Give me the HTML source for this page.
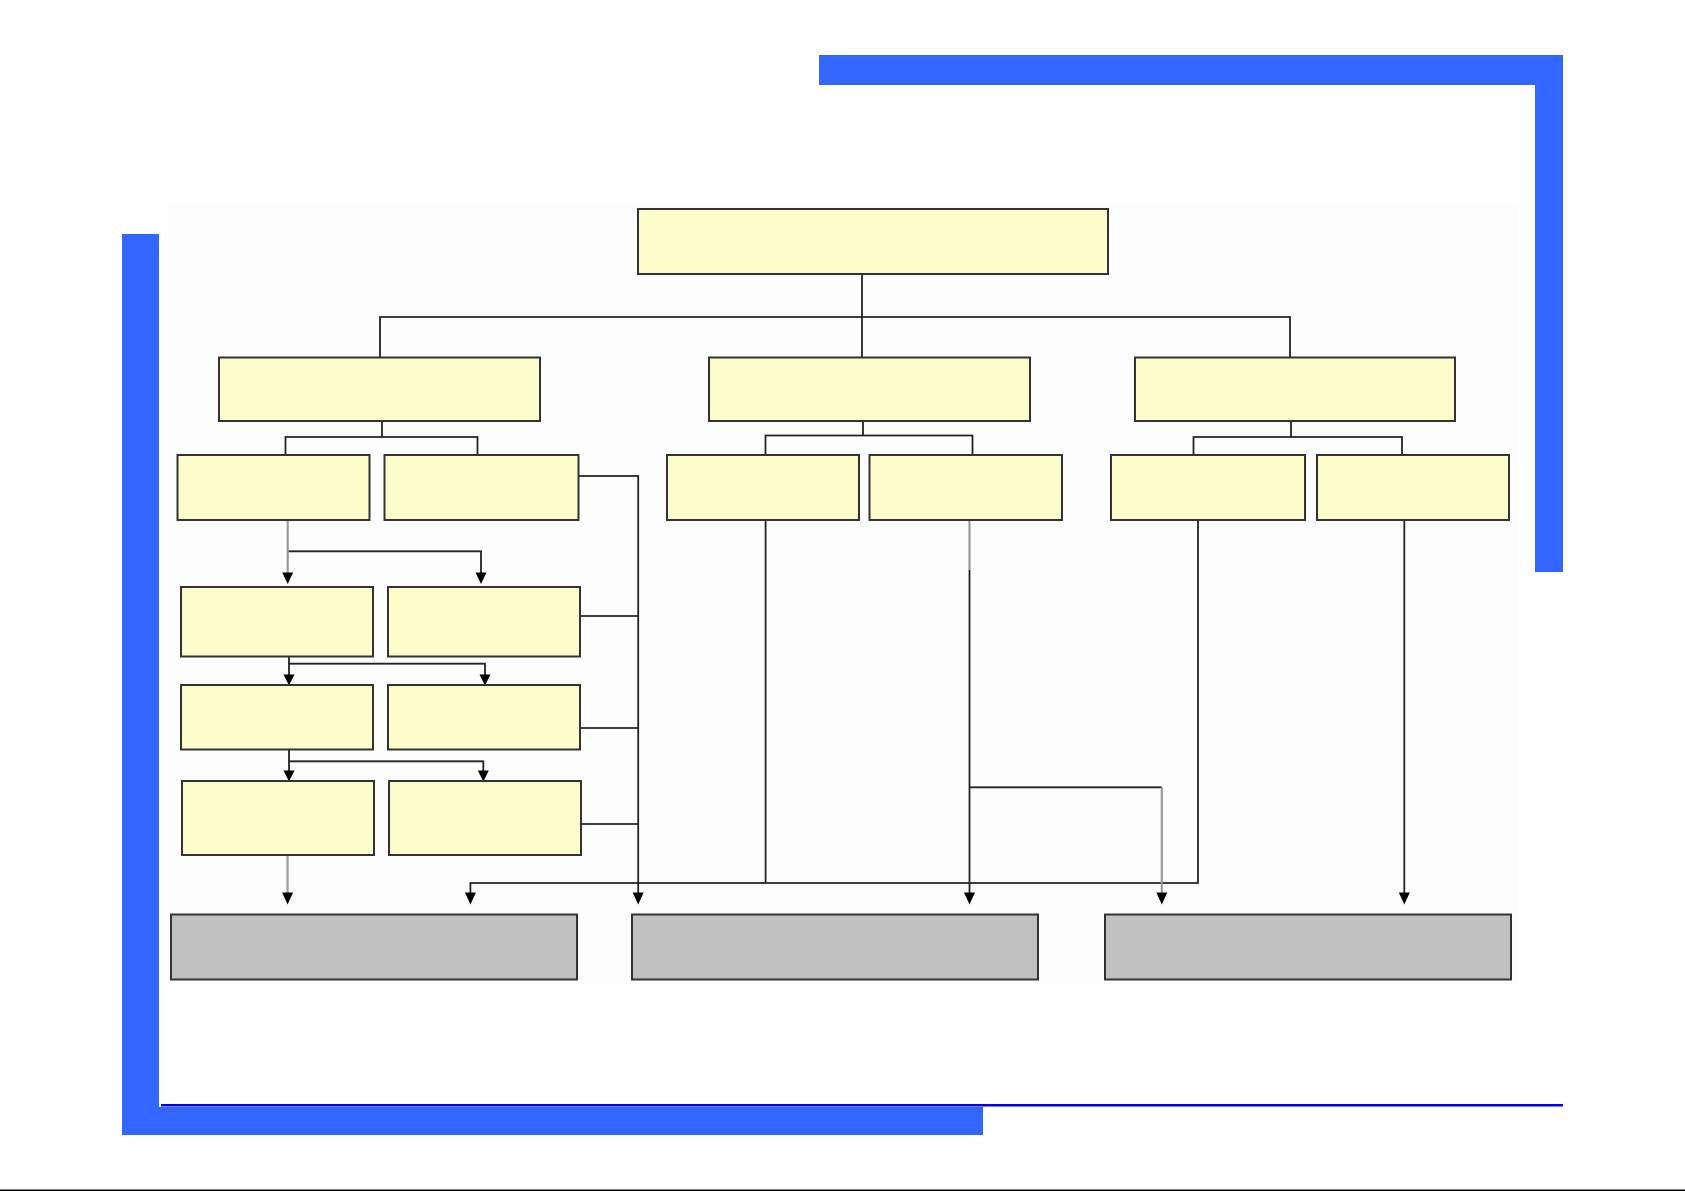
<!DOCTYPE html>
<html>
<head>
<meta charset="utf-8">
<style>
  html, body { margin: 0; padding: 0; background: #ffffff; }
  body { width: 1685px; height: 1191px; overflow: hidden; position: relative; font-family: "Liberation Sans", sans-serif; }
  svg { position: absolute; left: 0; top: 0; }
</style>
</head>
<body>
<svg width="1685" height="1191" viewBox="0 0 1685 1191" xmlns="http://www.w3.org/2000/svg">
  <!-- diagram background panel -->
  <rect x="167" y="203" width="1351" height="782" fill="#fdfdfd"/>

  <!-- blue frame -->
  <rect x="819" y="55" width="744" height="30" fill="#3366ff"/>
  <rect x="1535" y="55" width="28" height="517" fill="#3366ff"/>
  <rect x="122" y="234" width="37" height="901" fill="#3366ff"/>
  <rect x="122" y="1107" width="861" height="28" fill="#3366ff"/>
  <rect x="161" y="1104" width="1402" height="2.5" fill="#0000ee"/>
  <rect x="0" y="1189.5" width="1685" height="1.5" fill="#000000"/>

  <!-- connectors -->
  <g stroke="#222222" stroke-width="1.8" fill="none">
    <!-- root -->
    <polyline points="862,274 862,357"/>
    <polyline points="380,357 380,317 1290,317 1290,357"/>
    <!-- L2 box1 -->
    <polyline points="382,421 382,437"/>
    <polyline points="285.5,455 285.5,437 477.5,437 477.5,455"/>
    <!-- L2 box2 -->
    <polyline points="863,421 863,435.5"/>
    <polyline points="765.5,455 765.5,435.5 972.5,435.5 972.5,455"/>
    <!-- L2 box3 -->
    <polyline points="1291,421 1291,437"/>
    <polyline points="1193.5,455 1193.5,437 1402,437 1402,455"/>
    <!-- right trunk from left column -->
    <polyline points="578.5,476 638.2,476 638.2,896"/>
    <polyline points="580,616 638.2,616"/>
    <polyline points="580,728 638.2,728"/>
    <polyline points="581,824 638.2,824"/>
    <!-- row arrows (black parts) -->
    <polyline points="288,551.3 481,551.3 481,574"/>
    <polyline points="289,656.5 289,676"/>
    <polyline points="289,663.7 485,663.7 485,676"/>
    <polyline points="289,749.5 289,772"/>
    <polyline points="289,761.3 483.3,761.3 483.3,772"/>
    <!-- bottom collector -->
    <polyline points="470.4,896 470.4,883 1198,883 1198,520"/>
    <polyline points="765.6,520 765.6,883"/>
    <!-- D -->
    <polyline points="969.5,570 969.5,896"/>
    <polyline points="969.5,787.3 1161.8,787.3"/>
    <!-- F -->
    <polyline points="1404.3,520 1404.3,896"/>
  </g>
  <g stroke="#9a9a9a" stroke-width="2.2" fill="none">
    <polyline points="287.7,520 287.7,574"/>
    <polyline points="287.6,855 287.6,896"/>
    <polyline points="969.5,520 969.5,570"/>
    <polyline points="1161.8,787.3 1161.8,896"/>
  </g>

  <!-- arrowheads -->
  <g fill="#000000">
    <polygon points="282.2,572.5 293.2,572.5 287.7,584"/>
    <polygon points="475.5,572.5 486.5,572.5 481,584"/>
    <polygon points="283.5,674.5 294.5,674.5 289,685.5"/>
    <polygon points="479.5,674.5 490.5,674.5 485,685.5"/>
    <polygon points="283.5,770.5 294.5,770.5 289,781.5"/>
    <polygon points="477.8,770.5 488.8,770.5 483.3,781.5"/>
    <polygon points="282.1,892.5 293.1,892.5 287.6,904.5"/>
    <polygon points="464.9,892.5 475.9,892.5 470.4,904.5"/>
    <polygon points="632.7,892.5 643.7,892.5 638.2,904.5"/>
    <polygon points="964,892.5 975,892.5 969.5,904.5"/>
    <polygon points="1156.3,892.5 1167.3,892.5 1161.8,904.5"/>
    <polygon points="1398.8,892.5 1409.8,892.5 1404.3,904.5"/>
  </g>

  <!-- yellow boxes -->
  <g fill="#fdfccb" stroke="#333333" stroke-width="2">
    <rect x="638" y="209" width="470" height="65"/>
    <rect x="219" y="357.5" width="321" height="63.5"/>
    <rect x="709" y="357.5" width="321" height="63.5"/>
    <rect x="1135" y="357.5" width="320" height="63.5"/>

    <rect x="177.5" y="455" width="192" height="65"/>
    <rect x="384.5" y="455" width="194" height="65"/>
    <rect x="667" y="455" width="192" height="65"/>
    <rect x="869.5" y="455" width="192.5" height="65"/>
    <rect x="1111" y="455" width="194" height="65"/>
    <rect x="1317" y="455" width="192" height="65"/>

    <rect x="181" y="587" width="192" height="69.5"/>
    <rect x="388" y="587" width="192" height="69.5"/>
    <rect x="181" y="685" width="192" height="64.5"/>
    <rect x="388" y="685" width="192" height="64.5"/>
    <rect x="182" y="781" width="192" height="74"/>
    <rect x="389" y="781" width="192" height="74"/>
  </g>

  <!-- gray boxes -->
  <g fill="#c0c0c0" stroke="#333333" stroke-width="2">
    <rect x="171" y="914.5" width="406" height="65"/>
    <rect x="632" y="914.5" width="406" height="65"/>
    <rect x="1105" y="914.5" width="406" height="65"/>
  </g>
</svg>
</body>
</html>
